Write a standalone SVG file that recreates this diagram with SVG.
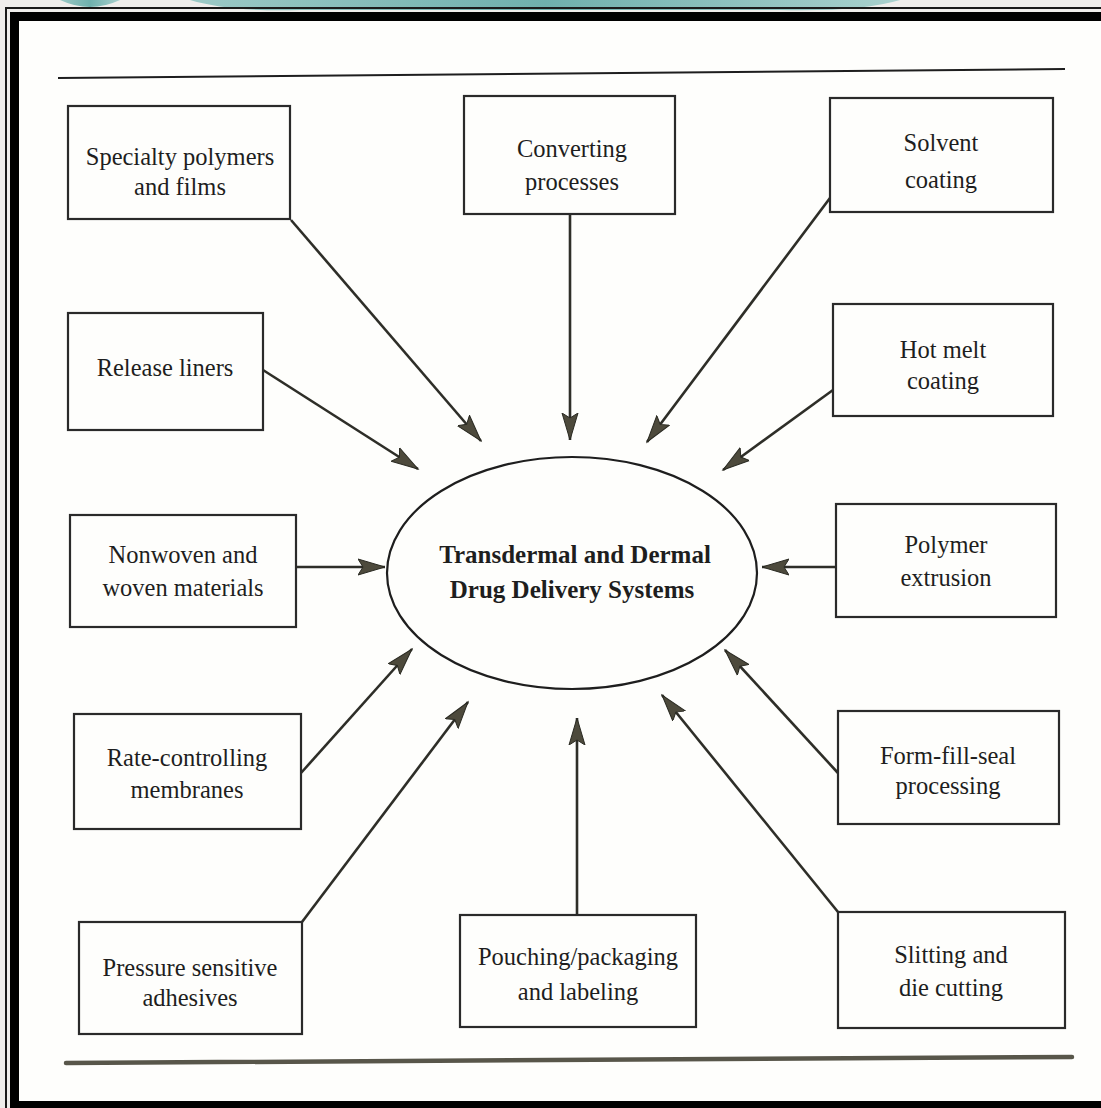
<svg xmlns="http://www.w3.org/2000/svg" width="1101" height="1108" viewBox="0 0 1101 1108">
<defs>
<linearGradient id="teal" x1="0" y1="0" x2="1" y2="0">
<stop offset="0" stop-color="#9cc9c6"/>
<stop offset="0.5" stop-color="#6fb0ad"/>
<stop offset="1" stop-color="#a9d0cd"/>
</linearGradient>
<marker id="ah" markerUnits="userSpaceOnUse" markerWidth="30" markerHeight="18" viewBox="0 0 30 18" refX="27" refY="9" orient="auto">
<path d="M0,1 L27,9 L0,17 L5,9 z" fill="#4d4a3c" stroke="#2a2a22" stroke-width="1"/>
</marker>
<style>
.box{fill:#fefefc;stroke:#2a2a2a;stroke-width:2.2}
.t{font-family:"Liberation Serif","Times New Roman",serif;font-size:24.5px;fill:#1e1e1e;text-anchor:middle}
.tc{font-family:"Liberation Serif","Times New Roman",serif;font-size:25px;font-weight:bold;fill:#1e1e1e;text-anchor:middle}
.c{stroke:#2e2e28;stroke-width:2.6;fill:none;marker-end:url(#ah)}
</style>
</defs>
<rect x="0" y="0" width="1101" height="1108" fill="#efedeb"/>
<path d="M60,0 Q90,14 120,0 Z" fill="url(#teal)"/>
<path d="M190,0 Q230,12 300,10 L780,10 Q860,12 900,0 Z" fill="url(#teal)"/>
<rect x="6" y="8" width="1100" height="1110" fill="none" stroke="#1a1a1a" stroke-width="2"/>
<rect x="10" y="12" width="1100" height="1100" fill="#000"/>
<rect x="19" y="21" width="1082" height="1080" fill="#fefefc"/>
<line x1="58" y1="78" x2="1065" y2="69" stroke="#1e1e1e" stroke-width="2"/>
<line x1="66" y1="1063" x2="1072" y2="1057" stroke="#58564a" stroke-width="4.5" stroke-linecap="round"/>

<g id="connectors">
<line class="c" x1="291" y1="220" x2="481" y2="441"/>
<line class="c" x1="570" y1="214" x2="570" y2="440"/>
<line class="c" x1="830" y1="198" x2="647" y2="442"/>
<line class="c" x1="263" y1="370" x2="418" y2="469"/>
<line class="c" x1="833" y1="390" x2="723" y2="470"/>
<line class="c" x1="296" y1="567" x2="385" y2="567"/>
<line class="c" x1="836" y1="567" x2="762" y2="567"/>
<line class="c" x1="301" y1="773" x2="412" y2="649"/>
<line class="c" x1="838" y1="773" x2="725" y2="650"/>
<line class="c" x1="302" y1="922" x2="468" y2="702"/>
<line class="c" x1="577" y1="915" x2="577" y2="718"/>
<line class="c" x1="838" y1="912" x2="662" y2="695"/>
</g>

<g id="center">
<ellipse cx="572" cy="573" rx="185" ry="116" fill="#fefefc" stroke="#1e1e1e" stroke-width="2.2"/>
<text class="tc" x="575" y="563">Transdermal and Dermal</text>
<text class="tc" x="572" y="598">Drug Delivery Systems</text>
</g>

<g id="n1"><rect class="box" x="68" y="106" width="222" height="113"/>
<text class="t" x="180" y="165">Specialty polymers</text><text class="t" x="180" y="195">and films</text></g>
<g id="n2"><rect class="box" x="464" y="96" width="211" height="118"/>
<text class="t" x="572" y="157">Converting</text><text class="t" x="572" y="190">processes</text></g>
<g id="n3"><rect class="box" x="830" y="98" width="223" height="114"/>
<text class="t" x="941" y="151">Solvent</text><text class="t" x="941" y="188">coating</text></g>
<g id="n4"><rect class="box" x="68" y="313" width="195" height="117"/>
<text class="t" x="165" y="376">Release liners</text></g>
<g id="n5"><rect class="box" x="833" y="304" width="220" height="112"/>
<text class="t" x="943" y="358">Hot melt</text><text class="t" x="943" y="389">coating</text></g>
<g id="n6"><rect class="box" x="70" y="515" width="226" height="112"/>
<text class="t" x="183" y="563">Nonwoven and</text><text class="t" x="183" y="596">woven materials</text></g>
<g id="n7"><rect class="box" x="836" y="504" width="220" height="113"/>
<text class="t" x="946" y="553">Polymer</text><text class="t" x="946" y="586">extrusion</text></g>
<g id="n8"><rect class="box" x="74" y="714" width="227" height="115"/>
<text class="t" x="187" y="766">Rate-controlling</text><text class="t" x="187" y="798">membranes</text></g>
<g id="n9"><rect class="box" x="838" y="711" width="221" height="113"/>
<text class="t" x="948" y="764">Form-fill-seal</text><text class="t" x="948" y="794">processing</text></g>
<g id="n10"><rect class="box" x="79" y="922" width="223" height="112"/>
<text class="t" x="190" y="976">Pressure sensitive</text><text class="t" x="190" y="1006">adhesives</text></g>
<g id="n11"><rect class="box" x="460" y="915" width="236" height="112"/>
<text class="t" x="578" y="965">Pouching/packaging</text><text class="t" x="578" y="1000">and labeling</text></g>
<g id="n12"><rect class="box" x="838" y="912" width="227" height="116"/>
<text class="t" x="951" y="963">Slitting and</text><text class="t" x="951" y="996">die cutting</text></g>
</svg>
